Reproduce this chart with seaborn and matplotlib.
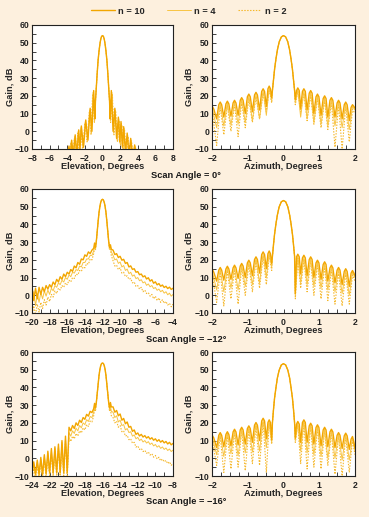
import matplotlib
matplotlib.use("Agg")
import matplotlib.pyplot as plt
from matplotlib.ticker import MultipleLocator
import seaborn as sns

# ------------------------------------------------------------------ data
series = ["n = 10", "n = 4", "n = 2"]
scan_titles = ["Scan Angle = 0°", "Scan Angle = \u221212°", "Scan Angle = \u221216°"]
scan_angles = [0, -12, -16]
elev_limits = [(-8, 8), (-20, -4), (-24, -8)]

# ---- Elevation, scan 0 (absolute elevation, degrees / gain, dB)
el0_beam_x = [-0.8, -0.7, -0.6, -0.5, -0.4, -0.3, -0.2, -0.1, 0.0,
              0.1, 0.2, 0.3, 0.4, 0.5, 0.6, 0.7, 0.8]
el0_beam_y = [17, 25, 33, 40, 45, 49, 52, 53.6, 54, 53.6, 52, 49, 45, 40, 33, 25, 17]

el0_n10_left_x = [-4.2, -4.0, -3.8, -3.65, -3.5, -3.3, -3.1, -2.9, -2.7,
                  -2.55, -2.4, -2.15, -1.9, -1.65, -1.4, -1.2, -1.0, -0.87]
el0_n10_left_y = [-16, -16, -8.3, -15, -5, -14, -2, -13, 0.8, -10, 3, -9, 6.4, -5, 13, 0, 23, 7]
el0_n10_right_x = [0.87, 1.0, 1.2, 1.4, 1.6, 1.8, 1.95, 2.1, 2.25, 2.4, 2.6,
                   2.8, 3.0, 3.2, 3.42, 3.65, 3.9, 4.2]
el0_n10_right_y = [7, 23, 0, 13, -4, 8, -6, 5.5, -9, 2.6, -12, -1, -14, -4, -15, -7.7, -16, -16]

el0_n4_left_x = [-4.2, -4.05, -3.85, -3.7, -3.55, -3.35, -3.15, -2.95, -2.75,
                 -2.6, -2.45, -2.2, -1.95, -1.7, -1.45, -1.25, -1.07, -0.9]
el0_n4_left_y = [-16, -16, -9, -15, -6, -14, -3, -13, 0, -11, 2, -9, 5.5, -5, 12, -1, 22, 6]
el0_n4_right_x = [0.9, 1.07, 1.25, 1.45, 1.65, 1.85, 2.0, 2.15, 2.3, 2.45, 2.65,
                  2.85, 3.05, 3.25, 3.47, 3.7, 3.95, 4.2]
el0_n4_right_y = [6, 22, -1, 12, -5, 7, -7, 4.5, -10, 1.8, -13, -2, -14, -5, -15, -8.5, -16, -16]

el0_n2_left_x = [-4.2, -4.1, -3.9, -3.75, -3.6, -3.4, -3.2, -3.0, -2.8,
                 -2.65, -2.5, -2.25, -2.0, -1.75, -1.5, -1.3, -1.12, -0.92]
el0_n2_left_y = [-16, -16, -10, -16, -7, -15, -4, -14, -1, -12, 1, -10, 4.5, -6, 11, -2, 21, 5]
el0_n2_right_x = [0.92, 1.12, 1.3, 1.5, 1.7, 1.9, 2.05, 2.2, 2.35, 2.5, 2.7,
                  2.9, 3.1, 3.3, 3.52, 3.75, 4.0, 4.2]
el0_n2_right_y = [5, 21, -2, 11, -6, 6, -8, 3.5, -11, 1, -14, -3, -15, -6, -16, -9.5, -16, -16]

# ---- Elevation, scanned beams: offset from the scan angle (degrees)
el_off_left = [-8.0, -7.8, -7.6, -7.4, -7.2, -7.0, -6.8, -6.6, -6.4, -6.2, -6.0, -5.8,
               -5.6, -5.4, -5.2, -5.0, -4.8, -4.6, -4.4, -4.2, -4.0, -3.8, -3.6, -3.4,
               -3.2, -3.0, -2.8, -2.6, -2.4, -2.2, -2.0, -1.8, -1.6, -1.4, -1.2]
el_off_beam = [-1.0, -0.9, -0.8, -0.7, -0.6, -0.5, -0.4, -0.3, -0.2, -0.1, 0.0,
               0.1, 0.2, 0.3, 0.4, 0.5, 0.6, 0.7, 0.8, 0.9, 1.0]
el_off_right = [1.2, 1.4, 1.6, 1.8, 2.0, 2.2, 2.4, 2.6, 2.8, 3.0, 3.2, 3.4, 3.6, 3.8,
                4.0, 4.2, 4.4, 4.6, 4.8, 5.0, 5.2, 5.4, 5.6, 5.8, 6.0, 6.2, 6.4, 6.6,
                6.8, 7.0, 7.2, 7.4, 7.6, 7.8, 8.0]

# scan -12
el12_n10 = ([5, -3, 4, -2, 4.5, 0.5, 4.5, 2, 5.5, 3.5, 6, 4.5, 7.5, 6, 9, 7.5, 10.5, 9,
             12, 10.5, 13, 12, 14.5, 13.5, 16.5, 15.5, 18.5, 17.5, 20.5, 20, 22.8, 22,
             24.5, 23.5, 25.5]
            + [26.5, 29.5, 27, 30.5, 36, 41.5, 46.5, 50, 52.5, 53.8, 54.2, 53.8, 52.5,
               50, 46.5, 41.5, 36, 30.5, 27, 28.5, 26]
            + [25.5, 23, 23.5, 21.3, 22, 19.8, 20.3, 18, 18.5, 16, 16.6, 14.6, 15, 13,
               13.4, 11.6, 12, 10.4, 11, 9.2, 9.9, 8, 8.8, 6.8, 7.6, 5.9, 6.6, 5.1, 5.8,
               4.4, 5.1, 3.8, 4.6, 3.3, 4.0])
el12_n4 = ([-5, 2, -6, 1, -4, 1.5, -2, 2.5, -0.5, 3, 0.5, 4, 2.5, 5.5, 4.5, 7, 6, 8.5,
            7.5, 10, 9, 11.5, 10.5, 13, 12.5, 14.5, 14, 16.5, 16, 18.5, 18.5, 20.5, 20.5,
            22.5, 22.5]
           + [25, 28, 26, 30.5, 36, 41.5, 46.5, 50, 52.5, 53.8, 54.2, 53.8, 52.5, 50,
              46.5, 41.5, 36, 30.5, 26, 27.5, 24.5]
           + [22.5, 20, 20.5, 18, 18.8, 16, 16.8, 14, 14.8, 12.2, 13, 10.8, 11.5, 9.4,
              10, 8.2, 8.8, 7, 7.6, 5.6, 6.4, 4.8, 5.5, 3.8, 4.4, 2.8, 3.5, 2, 2.8, 1.2,
              2, 0.3, 1.2, -0.5, 0.5])
el12_n2 = ([-12, -6, -11, -5, -9.5, -4, -7.5, -2.5, -5.5, -1, -3.5, 0.5, -1, 2.5, 1, 4,
            3, 5.5, 4.5, 7, 6, 8.5, 7.5, 10, 9.5, 12, 11.5, 14, 13.5, 16, 15.5, 18, 17.5,
            20.5, 20]
           + [23.5, 26.5, 25.5, 30.5, 36, 41.5, 46.5, 50, 52.5, 53.8, 54.2, 53.8, 52.5,
              50, 46.5, 41.5, 36, 30.5, 25.5, 26, 22.5]
           + [19.5, 16.5, 17, 14.5, 15.5, 12.5, 13, 10.5, 11, 9, 9.5, 7, 7.5, 5, 5.5,
              3.5, 4.5, 2, 3, 1, 1.5, -0.5, 0.5, -2, -0.5, -3, -1.5, -4, -2.5, -4.5,
              -3.5, -5.5, -4.5, -6.5, -5])

# scan -16
el16_n10 = ([-8, -2, -9, -1, -9, 0.5, -9, 2, -8.5, 4, -8, 5.5, -8, 6.5, -8, 8, -8, 10,
             -8, 12.5, -8, 17.5, 15.5, 18.5, 16.8, 20, 18.5, 21.5, 20.2, 23, 22, 24.8,
             23.8, 26.5, 25.8]
            + [28, 31, 28.5, 31.5, 36.5, 41.5, 46.5, 50, 52.3, 53.5, 53.8, 53.5, 52.3,
               50, 46.5, 41.5, 36.5, 31.5, 28.5, 31.5, 29]
            + [29, 26, 27, 24, 25, 21.5, 22.5, 19.5, 20.5, 17.5, 18, 15.2, 16, 13.5,
               14.3, 12.6, 13.5, 12, 12.8, 11.4, 12.2, 10.8, 11.6, 10.2, 11, 9.6, 10.5,
               9.1, 10, 8.7, 9.5, 8.1, 9, 7.6, 8.4])
el16_n4 = ([-9, -3, -10, -2, -10, -0.5, -10, 1, -9.5, 3, -9, 4.5, -9, 5.5, -9, 7, -9,
            9, -9, 11, -9, 14.5, 12.5, 15.5, 14, 17, 15.5, 18.5, 17.2, 20, 19, 21.8,
            20.8, 23.6, 23]
           + [26, 29.5, 27.5, 31.5, 36.5, 41.5, 46.5, 50, 52.3, 53.5, 53.8, 53.5, 52.3,
              50, 46.5, 41.5, 36.5, 31.5, 27.5, 29.5, 26.5]
           + [26, 23, 24, 20.5, 21.5, 18.5, 19, 16, 16.8, 14.5, 15, 12.5, 13.2, 11,
              11.8, 10, 10.8, 9.2, 10, 8.6, 9.4, 7.8, 8.6, 7, 7.8, 6.3, 7.1, 5.6, 6.4,
              5, 5.8, 4.4, 5.2, 3.8, 4.6])
el16_n2 = ([-12, -5, -12, -4, -12, -2.5, -11, -1, -11, 1, -10, 2.5, -10, 4, -10, 5.5,
            -10, 7.5, -10, 9.5, -10, 11.5, 9.5, 12.5, 11, 14, 12.5, 15.5, 14.3, 17.2,
            16, 19, 18, 21, 20.5]
           + [24, 28, 26.5, 31.5, 36.5, 41.5, 46.5, 50, 52.3, 53.5, 53.8, 53.5, 52.3,
              50, 46.5, 41.5, 36.5, 31.5, 26.5, 28, 24]
           + [23, 20, 21, 17.5, 18.5, 15, 15.5, 12.5, 13, 10.5, 11, 8.5, 9, 6.3, 7, 5,
              5.6, 3.8, 4.5, 2.8, 3.6, 1.8, 2.6, 0.6, 1.6, -0.4, 0.6, -1.4, -0.4, -2,
              -1.2, -3, -2, -4, -2.8])

# ---- Azimuth (degrees)
# coarse sample positions (n = 4, n = 2): null / peak alternation
az_x_left = [-2.0, -1.87, -1.77, -1.67, -1.57, -1.47, -1.37, -1.27, -1.17, -1.07,
             -0.97, -0.87, -0.77, -0.67, -0.57, -0.48, -0.40, -0.33]
az_x_beam = [-0.31, -0.28, -0.25, -0.21, -0.17, -0.12, -0.06, 0.0, 0.06, 0.12, 0.17,
             0.21, 0.25, 0.28, 0.31]
az_x_right = [0.33, 0.40, 0.48, 0.57, 0.66, 0.76, 0.85, 0.95, 1.05, 1.15, 1.24, 1.34,
              1.44, 1.54, 1.64, 1.74, 1.84, 1.93, 2.0]
# fine sample positions (n = 10): null / shoulder / peak / shoulder
az_xf_left = [-2.0, -1.95, -1.87, -1.81, -1.77, -1.73, -1.67, -1.61, -1.57, -1.53,
              -1.47, -1.41, -1.37, -1.33, -1.27, -1.21, -1.17, -1.13, -1.07, -1.01,
              -0.97, -0.93, -0.87, -0.81, -0.77, -0.73, -0.67, -0.61, -0.57, -0.53,
              -0.48, -0.435, -0.40, -0.365, -0.33]
az_xf_right = [0.33, 0.365, 0.40, 0.44, 0.48, 0.53, 0.57, 0.61, 0.66, 0.72, 0.76, 0.80,
               0.85, 0.91, 0.95, 0.99, 1.05, 1.11, 1.15, 1.19, 1.24, 1.30, 1.34, 1.38,
               1.44, 1.50, 1.54, 1.58, 1.64, 1.70, 1.74, 1.78, 1.84, 1.89, 1.93, 1.97, 2.0]

az0_beam = [23, 29, 35, 41, 46, 50.5, 53.3, 54, 53.3, 50.5, 46, 41, 35, 29, 23]
az0_n10 = ([14.5, 12.5, 7, 15, 16.5, 15, 8, 15.5, 17, 15.5, 8.5, 16, 17.5, 16, 9, 17.5,
            19, 17.5, 10, 19.5, 21, 19.5, 11, 20.5, 22, 20.5, 12, 22.5, 24, 22.5, 14, 24,
            25.5, 24, 19],
           [18, 23, 24.5, 23, 13, 22.5, 24, 22.5, 12, 21.5, 23, 21.5, 10, 19.5, 21, 19.5,
            9, 18.5, 20, 18.5, 8, 17.5, 19, 17.5, 8, 16, 17.5, 16, 7, 15, 16.5, 15, 6,
            13.5, 15, 14, 13])
az0_n4 = ([13.5, 2, 15.5, 3, 16, 3.5, 16.5, 4, 18, 5, 20, 6, 21, 7, 23, 9, 24.5, 17],
          [16, 23.5, 8, 23, 7, 22, 5, 20, 4, 19, 3, 18, 3, 16.5, 2, 15.5, 1, 14, 12])
az0_n2 = ([12, -8, 14, -2, 14.5, 0, 15, -3, 16.5, 2, 18.5, 5, 19.5, 7, 21.5, 11, 23.5, 16],
          [15, 22.5, 11, 21.5, 6, 20.5, 4, 18.5, 2, 17.5, 1, 16.5, -9, 15, -10, 14, -6, 12.5, 10])

az12_beam = [22, 28.5, 34.5, 40.5, 45.5, 50, 52.8, 53.5, 52.8, 50, 45.5, 40.5, 34.5, 28.5, 22]
az12_n10 = ([15, 13, 8, 14.2, 15.7, 14.2, 8.5, 14.9, 16.4, 14.9, 9, 15.5, 17, 15.5, 9.5,
             16.5, 18, 16.5, 10, 18.3, 19.8, 18.3, 11, 20.2, 21.7, 20.2, 12.5, 23, 24.5,
             23, 15, 23.5, 25, 23.5, 18],
            [1, 21.7, 23.2, 21.7, 12, 21.1, 22.6, 21.1, 11, 20.2, 21.7, 20.2, 10, 18.3,
             19.8, 18.3, 9, 17.4, 18.9, 17.4, 8, 15.5, 17, 15.5, 7, 14.2, 15.7, 14.2, 6,
             13.5, 15, 13.5, 5, 12.5, 14, 12.5, 11])
az12_n4 = ([14, 3, 14.7, 2, 15.4, 4, 16, 3, 17, 5, 18.8, 6, 20.7, 7, 23.5, 10, 24, 16],
           [0, 22.2, 7, 21.6, 6, 20.7, 5, 18.8, 4, 17.9, 3, 16, 2, 14.7, 1, 14, 0, 13, 10])
az12_n2 = ([12.5, -4, 13, -6, 14, -2, 14.5, -5, 15.5, 0, 17.5, 2, 19.5, 4, 22, 6, 22.5, 14],
           [-2, 21, 4, 20.5, 2, 19.5, 0, 17.5, -2, 16.5, -3, 14.5, -5, 13, -6, 12.5, -5, 11.5, 8])

az16_beam = [20, 27.5, 34, 40, 45.5, 49.8, 52.7, 53.4, 52.7, 49.8, 45.5, 40, 34, 27.5, 20]
az16_n10 = ([13.2, 11.5, 6, 13, 14.5, 13, 6.5, 13.5, 15, 13.5, 7, 14.9, 16.4, 14.9, 7.5,
             16, 17.5, 16, 8, 16.8, 18.3, 16.8, 9, 18.7, 20.2, 18.7, 10, 21.1, 22.6,
             21.1, 11, 20.2, 21.7, 20.2, 10.4],
            [11.3, 19.3, 20.8, 19.3, 9, 20.2, 21.7, 20.2, 9, 18.3, 19.8, 18.3, 8, 17.4,
             18.9, 17.4, 7, 16, 17.5, 16, 6.5, 14.9, 16.4, 14.9, 6, 13, 14.5, 13, 5.5,
             12.7, 14.2, 12.7, 5, 10.8, 12.3, 9, 5.7])
az16_n4 = ([12.5, 2, 13.8, 1, 14.3, 2.5, 15.6, 1.5, 16.7, 3, 17.5, 3.5, 19.4, 4, 21.8, 6, 21, 9],
           [10, 20, 4, 21, 3, 19, 2, 18, 1, 16.7, 0, 15.5, 0, 13.7, -1, 13.4, -1, 11.5, 4])
az16_n2 = ([11, -4, 12.5, -8, 13, -6, 14.4, -5, 15.5, -7, 16.3, -3, 18.2, -4, 20.6, -8, 19.7, 8],
           [9, 19, -3, 20, -6, 18, -5, 17, -6, 15.5, -4, 14.4, -9, 12.5, -10, 12.2, -8, 10.3, 2])

# ------------------------------------------------------------------ styles
BG = "#FDF0DE"
COLORS = {"n = 10": "#F2A600", "n = 4": "#F8C443", "n = 2": "#F5B72A"}
WIDTHS = {"n = 10": 1.0, "n = 4": 0.7, "n = 2": 0.8}
STYLES = {"n = 10": "-", "n = 4": "-", "n = 2": (0, (1.3, 1.3))}
DRAW_ORDER = ["n = 2", "n = 4", "n = 10"]

sns.set_style("ticks")
plt.rcParams.update({
    "font.family": ["Liberation Sans", "DejaVu Sans"],
    "font.weight": "bold",
    "axes.labelweight": "bold",
    "axes.edgecolor": "#222222",
    "axes.linewidth": 0.8,
    "axes.facecolor": "white",
    "xtick.color": "#222222",
    "ytick.color": "#222222",
})

W, H = 369, 517
fig = plt.figure(figsize=(W / 100, H / 100), dpi=100, facecolor=BG)

row_tb = [(25, 149), (189, 313), (352, 476)]
col_lr = [(32, 173), (212, 355)]
title_y = [175, 339, 502]


def make_ax(col, row):
    l, r = col_lr[col]
    t, b = row_tb[row]
    return fig.add_axes([l / W, 1 - b / H, (r - l) / W, (b - t) / H])


def draw(ax, curves):
    for name in DRAW_ORDER:
        xs, ys = curves[name]
        assert len(xs) == len(ys), (name, len(xs), len(ys))
        sns.lineplot(x=xs, y=ys, ax=ax, sort=False, estimator=None,
                     color=COLORS[name], linewidth=WIDTHS[name],
                     linestyle=STYLES[name], label=name)


def style(ax, xlim, xmaj, xmin, xlabel):
    ax.set_xlim(*xlim)
    ax.set_ylim(-10, 60)
    ax.xaxis.set_major_locator(MultipleLocator(xmaj))
    ax.xaxis.set_minor_locator(MultipleLocator(xmin))
    ax.yaxis.set_major_locator(MultipleLocator(10))
    ax.yaxis.set_minor_locator(MultipleLocator(5))
    ax.tick_params(which="both", direction="in", top=False, right=False,
                   length=3, width=0.6)
    ax.tick_params(axis="y", which="major", labelsize=6.2, pad=1.8)
    ax.tick_params(axis="x", which="major", labelsize=6.2, pad=3.6)
    for s in ax.spines.values():
        s.set_visible(True)
        s.set_linewidth(0.8)
    ax.set_xlabel(xlabel, fontsize=6.7)
    ax.set_ylabel("Gain, dB", fontsize=6.7)
    ax.xaxis.set_label_coords(0.5, -0.108)
    ax.yaxis.set_label_coords(-0.127, 0.5)
    if ax.get_legend() is not None:
        ax.get_legend().remove()


elev_sets = [
    {"n = 10": (el0_n10_left_x + el0_beam_x + el0_n10_right_x,
                el0_n10_left_y + el0_beam_y + el0_n10_right_y),
     "n = 4": (el0_n4_left_x + el0_beam_x + el0_n4_right_x,
               el0_n4_left_y + el0_beam_y + el0_n4_right_y),
     "n = 2": (el0_n2_left_x + el0_beam_x + el0_n2_right_x,
               el0_n2_left_y + el0_beam_y + el0_n2_right_y)},
]
for scan, n10, n4, n2 in [(-12, el12_n10, el12_n4, el12_n2),
                          (-16, el16_n10, el16_n4, el16_n2)]:
    xs = [scan + o for o in el_off_left + el_off_beam + el_off_right]
    elev_sets.append({"n = 10": (xs, n10), "n = 4": (xs, n4), "n = 2": (xs, n2)})

az_xs = az_x_left + az_x_beam + az_x_right
az_xfs = az_xf_left + az_x_beam + az_xf_right
az_sets = []
for beam, n10, n4, n2 in [(az0_beam, az0_n10, az0_n4, az0_n2),
                          (az12_beam, az12_n10, az12_n4, az12_n2),
                          (az16_beam, az16_n10, az16_n4, az16_n2)]:
    az_sets.append({"n = 10": (az_xfs, n10[0] + beam + n10[1]),
                    "n = 4": (az_xs, n4[0] + beam + n4[1]),
                    "n = 2": (az_xs, n2[0] + beam + n2[1])})

handles = None
for row in range(3):
    ax_e = make_ax(0, row)
    draw(ax_e, elev_sets[row])
    if handles is None:
        h, l = ax_e.get_legend_handles_labels()
        lookup = dict(zip(l, h))
        handles = [lookup[s] for s in series]
    style(ax_e, elev_limits[row], 2, 1, "Elevation, Degrees")

    ax_a = make_ax(1, row)
    draw(ax_a, az_sets[row])
    style(ax_a, (-2, 2), 1, 0.25, "Azimuth, Degrees")

    fig.text(186 / W, 1 - title_y[row] / H, scan_titles[row], ha="center",
             va="center", fontsize=6.7, fontweight="bold", color="#1a1a1a")

fig.legend(handles, series, loc="center", bbox_to_anchor=(189 / W, 1 - 11 / H),
           ncol=3, frameon=False, fontsize=6.7, handlelength=2.5,
           columnspacing=2.4, handletextpad=0.4)

fig.savefig("out.png", dpi=100, facecolor=BG)
